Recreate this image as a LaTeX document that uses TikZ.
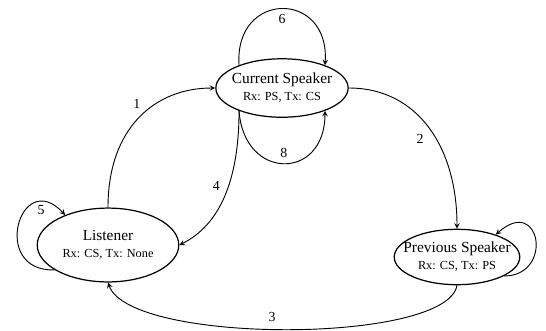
\documentclass[tikz,border=0pt]{standalone}
\usepackage{fontspec}
\setmainfont{Liberation Serif}
\usetikzlibrary{shapes.geometric}
\begin{document}
\begin{tikzpicture}[x=0.65pt,y=-0.65pt,>=stealth,
    state/.style={draw,ellipse,line width=0.8pt,align=center,
      inner xsep=-6pt,inner ysep=0pt,font=\fontsize{10}{11}\selectfont},
    edge/.style={->,line width=0.6pt},
    num/.style={font=\fontsize{9}{10}\selectfont}]
  \useasboundingbox (0,0) rectangle (546,330);
  % states
  \node[state,minimum width=86pt,minimum height=38pt] (cs) at (282,88)
    {Current Speaker\\ \footnotesize Rx: PS, Tx: CS};
  \node[state,minimum width=92pt,minimum height=48pt] (lis) at (108,245)
    {Listener\\ \footnotesize Rx: CS, Tx: None};
  \node[state,minimum width=81pt,minimum height=36pt] (ps) at (457,257)
    {Previous Speaker\\ \footnotesize Rx: CS, Tx: PS};
  % transitions
  \draw[edge] (lis.north) .. controls +(0,-80) and +(-60,0) ..
    node[num,pos=0.48,above=4pt] {1} (cs.west);
  \draw[edge] (cs.east) .. controls +(70,0) and +(0,-80) ..
    node[num,pos=0.5,below left] {2} (ps.north);
  \draw[edge] (ps.south) .. controls +(-10,59) and +(22,62) ..
    node[num,pos=0.53,above=1pt] {3} (lis.south);
  \draw[edge] (cs.208) .. controls +(0,70) and +(40,-20) ..
    node[num,pos=0.42,left=2pt] {4} (lis.east);
  \draw[edge] (lis.205) .. controls +(-65,2) and +(-45,-48) ..
    node[num,pos=0.64,right=4pt] {5} (lis.145);
  \draw[edge] (cs.152) .. controls +(-5,-75) and +(5,-75) ..
    node[num,pos=0.5,below] {6} (cs.28);
  \draw[edge] (cs.208) .. controls +(5,70) and +(0,70) ..
    node[num,pos=0.5,above] {8} (cs.-28);
  \draw[edge] (ps.-22) .. controls +(50,0) and +(45,-40) .. (ps.30);
\end{tikzpicture}
\end{document}
